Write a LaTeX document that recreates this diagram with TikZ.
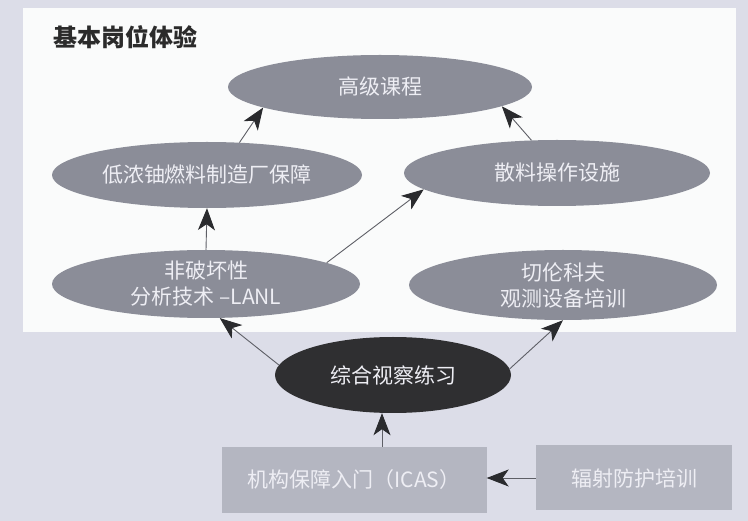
\documentclass[tikz,border=0pt]{standalone}
\usepackage{fontspec}
\setmainfont{Noto Sans CJK SC}
\usetikzlibrary{shapes.geometric,arrows.meta,calc}
\definecolor{bg}{HTML}{DCDDE8}
\definecolor{panel}{HTML}{FAFBFB}
\definecolor{ellfill}{HTML}{8B8D98}
\definecolor{darkfill}{HTML}{2F2F31}
\definecolor{boxfill}{HTML}{B4B6C1}
\definecolor{lighttext}{HTML}{EEEEF4}
\definecolor{linecol}{HTML}{5E5F66}
\definecolor{headcol}{HTML}{2A2B2E}
\definecolor{titlecol}{HTML}{2B2B2B}
\begin{document}
\begin{tikzpicture}[x=1pt,y=-1pt,
  ell/.style={ellipse, fill=ellfill, text=lighttext, inner sep=0pt, align=center,
    font=\fontsize{21}{26}\selectfont},
  darkell/.style={ell, fill=darkfill},
  box/.style={rectangle, fill=boxfill, text=lighttext, inner sep=0pt, align=center,
    font=\fontsize{21}{24}\selectfont},
  arr/.style={draw=linecol, line width=0.9pt,
    arrows={-Stealth[length=22pt,width=17pt,inset=6pt,color=headcol]}}]
\useasboundingbox (0,0) rectangle (748,521);
\fill[bg] (0,0) rectangle (748,521);
\fill[panel] (23,8) rectangle (736,332);

\node[anchor=west, text=titlecol, font=\fontsize{24}{28}\selectfont\bfseries] (title) at (50,37) {基本岗位体验};

\node[ell, minimum width=304pt, minimum height=64pt] (B) at (380,87) {高级课程};
\node[ell, minimum width=310pt, minimum height=66pt] (A) at (207,175) {低浓铀燃料制造厂保障};
\node[ell, minimum width=306pt, minimum height=66pt] (C) at (557,173) {散料操作设施};
\node[ell, minimum width=308pt, minimum height=68pt] (D) at (206,284) {非破坏性\\分析技术 –LANL};
\node[ell, minimum width=308pt, minimum height=70pt] (F) at (563,285) {切伦科夫\\观测设备培训};
\node[darkell, minimum width=236pt, minimum height=76pt] (E) at (393,375) {综合视察练习};
\node[box, minimum width=265pt, minimum height=66pt] (G) at (354,480) {机构保障入门（ICAS）};
\node[box, minimum width=196pt, minimum height=65pt] (H) at (634,478) {辐射防护培训};

\draw[arr] (A.45) -- (B.190);
\draw[arr] (C.128) -- (B.-9);
\draw[arr] (D.north) -- (A.south);
\draw[arr] (D.10) -- (C.187);
\draw[arr] (E.175) -- (D.-68);
\draw[arr] (E.3) -- (F.south);
\draw[arr] ([xshift=28pt]G.north) -- ([xshift=-11pt]E.south);
\draw[arr] (H.west) -- (H.west -| G.east);
\end{tikzpicture}
\end{document}
